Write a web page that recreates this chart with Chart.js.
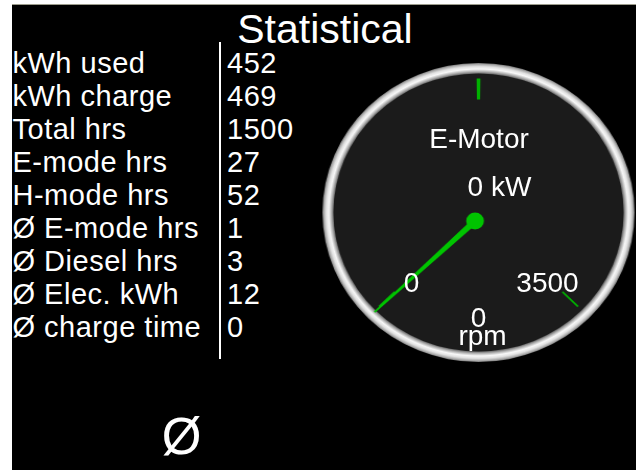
<!DOCTYPE html>
<html>
<head>
<meta charset="utf-8">
<script src="https://cdn.jsdelivr.net/npm/chart.js@4/dist/chart.umd.min.js"></script>
<style>
html,body{margin:0;padding:0}
body{width:641px;height:470px;overflow:hidden;position:relative;background:#fff;font-family:"Liberation Sans",Arial,sans-serif;color:#fff}
#screen{position:absolute;left:12px;top:4px;width:624px;height:466px;background:#000;border-top:1px solid #9c9c8c;box-sizing:border-box}
.t{position:absolute;white-space:nowrap;transform:translateX(-50%)}
#labels,#values{position:absolute;top:46.5px;font-size:29px;line-height:33px;white-space:nowrap;letter-spacing:0.5px}
#labels{left:12.5px}
#values{left:227px}
#sep{position:absolute;left:218.5px;top:42px;width:2px;height:317px;background:#fff}
#title{font-size:41px;line-height:41px;left:325px;top:9.3px}
.g{font-size:28px;line-height:28px}
#foot{font-size:51px;line-height:51px;left:181.5px;top:411px}
#gauge{position:absolute;left:329px;top:63px;width:299px;height:299px;transform:scaleX(1.044)}
</style>
</head>
<body>
<div id="screen"></div>
<div id="title" class="t"></div>
<div id="labels"></div>
<div id="sep"></div>
<div id="values"></div>
<div id="gauge"><canvas id="c"></canvas></div>
<div id="gTitle" class="t g" style="left:479px;top:124.8px"></div>
<div id="gPower" class="t g" style="left:499.5px;top:173.3px"></div>
<div id="gMin" class="t g" style="left:411.5px;top:269.3px"></div>
<div id="gMax" class="t g" style="left:547.5px;top:269.3px"></div>
<div id="gRpm" class="t g" style="left:478.5px;top:304.3px"></div>
<div id="gUnit" class="t g" style="left:482.5px;top:322.3px"></div>
<div id="foot" class="t"></div>
<script>
// ---- data ----
const titleText = "Statistical";
const statLabels = ["kWh used", "kWh charge", "Total hrs", "E-mode hrs", "H-mode hrs", "Ø E-mode hrs", "Ø Diesel hrs", "Ø Elec. kWh", "Ø charge time"];
const statValues = [452, 469, 1500, 27, 52, 1, 3, 12, 0];
const gaugeTitle = "E-Motor";
const powerValue = 0;
const powerUnit = "kW";
const rpmValue = 0;
const rpmMin = 0;
const rpmMax = 3500;
const tickValues = [0, 1750, 3500];
const tickLabels = ["0", "3500"];
const rpmUnit = "rpm";
const footerSymbol = "Ø";

// ---- text ----
document.getElementById('title').textContent = titleText;
const labEl = document.getElementById('labels');
const valEl = document.getElementById('values');
statLabels.forEach((l, i) => {
  const a = document.createElement('div'); a.textContent = l; labEl.appendChild(a);
  const b = document.createElement('div'); b.textContent = String(statValues[i]); valEl.appendChild(b);
});
document.getElementById('gTitle').textContent = gaugeTitle;
document.getElementById('gPower').textContent = powerValue + " " + powerUnit;
document.getElementById('gMin').textContent = tickLabels[0];
document.getElementById('gMax').textContent = tickLabels[1];
document.getElementById('gRpm').textContent = String(rpmValue);
document.getElementById('gUnit').textContent = rpmUnit;
document.getElementById('foot').textContent = footerSymbol;

// ---- gauge ----
const TICK_W = 20;
const TICK_COLOR = '#00b000';
const NEEDLE_COLOR = '#00c400';
const FACE = '#1b1b1b';
const CLEAR = 'rgba(0,0,0,0)';
const HUB_DX = -3.3, HUB_DY = 8.5, NEEDLE_R = 141;

const tickSegs = [], tickCols = [];
let pos = rpmMin;
tickValues.forEach(t => {
  const s = Math.max(rpmMin, t - TICK_W / 2), e = Math.min(rpmMax, t + TICK_W / 2);
  if (s > pos) { tickSegs.push(s - pos); tickCols.push(CLEAR); }
  tickSegs.push(e - s); tickCols.push(TICK_COLOR);
  pos = e;
});
if (pos < rpmMax) { tickSegs.push(rpmMax - pos); tickCols.push(CLEAR); }

function bezelGradient(ctx) {
  const chart = ctx.chart, a = chart.chartArea;
  if (!a) return '#cccccc';
  const cx = (a.left + a.right) / 2, cy = (a.top + a.bottom) / 2;
  const R = Math.min(a.right - a.left, a.bottom - a.top) / 2;
  const g = chart.ctx.createRadialGradient(cx, cy, R - 10.5, cx, cy, R);
  g.addColorStop(0, '#6e6e6e');
  g.addColorStop(0.18, '#b0b0b0');
  g.addColorStop(0.42, '#f8f8f8');
  g.addColorStop(0.65, '#e2e2e2');
  g.addColorStop(0.85, '#b0b0b0');
  g.addColorStop(1, '#7a7a7a');
  return g;
}

const gaugePlugin = {
  id: 'gaugeFace',
  beforeDatasetsDraw(chart) {
    const el = chart.getDatasetMeta(0).data[0];
    const ctx = chart.ctx;
    ctx.save();
    ctx.beginPath();
    ctx.arc(el.x, el.y, el.innerRadius + 0.5, 0, Math.PI * 2);
    ctx.fillStyle = FACE;
    ctx.fill();
    ctx.restore();
  },
  afterDatasetsDraw(chart) {
    const el = chart.getDatasetMeta(3).data[0];
    const ang = el.endAngle;
    const hx = el.x + HUB_DX, hy = el.y + HUB_DY;
    const tx = el.x + NEEDLE_R * Math.cos(ang), ty = el.y + NEEDLE_R * Math.sin(ang);
    const dx = tx - hx, dy = ty - hy, len = Math.hypot(dx, dy);
    const px = -dy / len, py = dx / len;
    const ctx = chart.ctx;
    ctx.save();
    ctx.beginPath();
    ctx.moveTo(hx + px * 3, hy + py * 3);
    ctx.lineTo(tx + px * 0.8, ty + py * 0.8);
    ctx.lineTo(tx - px * 0.8, ty - py * 0.8);
    ctx.lineTo(hx - px * 3, hy - py * 3);
    ctx.closePath();
    ctx.fillStyle = NEEDLE_COLOR;
    ctx.fill();
    ctx.beginPath();
    ctx.arc(hx, hy, 8.5, 0, Math.PI * 2);
    ctx.fill();
    ctx.restore();
  }
};

new Chart(document.getElementById('c'), {
  type: 'doughnut',
  data: {
    datasets: [
      { data: [1], circumference: 360, weight: 10.5, backgroundColor: bezelGradient, borderWidth: 0 },
      { data: [1], weight: 5, backgroundColor: CLEAR, borderWidth: 0 },
      { data: tickSegs, weight: 21, backgroundColor: tickCols, borderWidth: 0 },
      { data: [rpmValue - rpmMin, rpmMax - rpmValue], weight: 113, backgroundColor: [CLEAR, CLEAR], borderWidth: 0 }
    ]
  },
  options: {
    responsive: true,
    maintainAspectRatio: false,
    animation: false,
    events: [],
    rotation: -135,
    circumference: 270,
    cutout: 0,
    spacing: 0,
    hoverOffset: 0,
    layout: { padding: 0 },
    plugins: { legend: { display: false }, tooltip: { enabled: false } }
  },
  plugins: [gaugePlugin]
});
</script>
</body>
</html>
